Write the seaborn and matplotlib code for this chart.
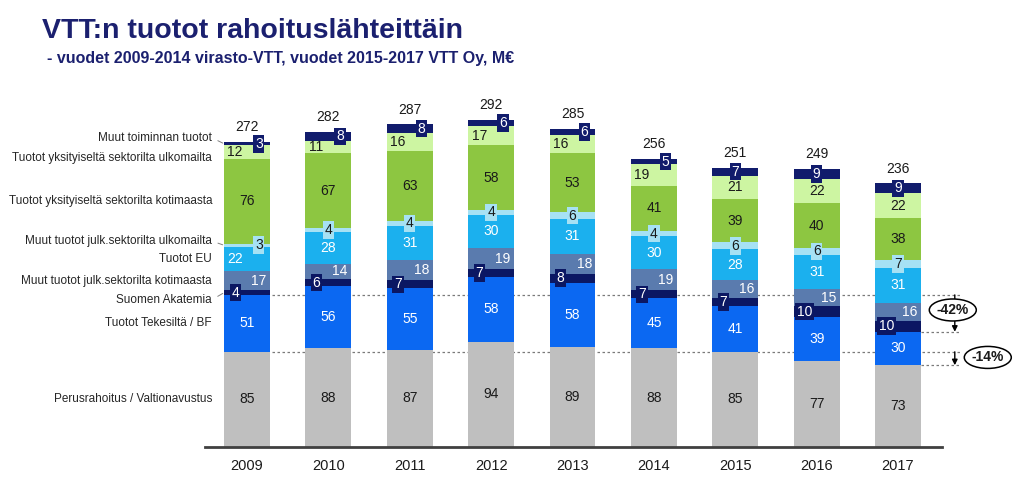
import numpy as np
import pandas as pd
import matplotlib
matplotlib.use("Agg")
import matplotlib.pyplot as plt
import seaborn as sns
from matplotlib import font_manager
from matplotlib.patches import Ellipse

# ---------------- data ----------------
years = ["2009", "2010", "2011", "2012", "2013", "2014", "2015", "2016", "2017"]
series_names = [
    "Perusrahoitus / Valtionavustus",
    "Tuotot Tekesiltä / BF",
    "Suomen Akatemia",
    "Muut tuotot julk.sektorilta kotimaasta",
    "Tuotot EU",
    "Muut tuotot julk.sektorilta ulkomailta",
    "Tuotot yksityiseltä sektorilta kotimaasta",
    "Tuotot yksityiseltä sektorilta ulkomailta",
    "Muut toiminnan tuotot",
]
perus = [85, 88, 87, 94, 89, 88, 85, 77, 73]
tekes = [51, 56, 55, 58, 58, 45, 41, 39, 30]
akatemia = [4, 6, 7, 7, 8, 7, 7, 10, 10]
julk_koti = [17, 14, 18, 19, 18, 19, 16, 15, 16]
eu = [22, 28, 31, 30, 31, 30, 28, 31, 31]
julk_ulko = [3, 4, 4, 4, 6, 4, 6, 6, 7]
yks_koti = [76, 67, 63, 58, 53, 41, 39, 40, 38]
yks_ulko = [12, 11, 16, 17, 16, 19, 21, 22, 22]
muut = [3, 8, 8, 6, 6, 5, 7, 9, 9]
totals = [272, 282, 287, 292, 285, 256, 251, 249, 236]
change_labels = ["-42%", "-14%"]
title = "VTT:n tuotot rahoituslähteittäin"
subtitle = "- vuodet 2009-2014 virasto-VTT, vuodet 2015-2017 VTT Oy, M€"

layers = [perus, tekes, akatemia, julk_koti, eu, julk_ulko, yks_koti, yks_ulko, muut]

# ---------------- style ----------------
colors = ["#BFBFBF", "#0B68F2", "#0B1763", "#5A7BAE", "#1BB0EE",
          "#A6E1F4", "#8DC641", "#CDF5A2", "#111C6C"]
dark = "#1a1a1a"
text_colors = [dark, "white", "white", "white", "white", dark, dark, dark, "white"]
boxed = [False, False, True, False, False, True, False, False, True]
placement = [
    ["C"] * 9,
    ["C"] * 9,
    ["L"] * 9,
    ["R"] * 9,
    ["L"] + ["C"] * 8,
    ["R"] + ["C"] * 8,
    ["C"] * 9,
    ["L"] * 6 + ["C"] * 3,
    ["R"] * 6 + ["C"] * 3,
]
dx_pt = {"L": -8.5, "C": 0, "R": 8.5}
# vertical offsets (points) of the left-hand series labels
label_dy = [0, 0, -5.0, 0, 0, 3.0, 0, -4.3, 4.2]
leader = [False, False, True, False, False, True, False, False, True]

sns.set_theme(style="white")
names = {f.name for f in font_manager.fontManager.ttflist}
base_font = "Liberation Sans" if "Liberation Sans" in names else "DejaVu Sans"
title_font = "Liberation Sans Narrow" if "Liberation Sans Narrow" in names else base_font
narrow = title_font != base_font
plt.rcParams["font.family"] = [base_font, "DejaVu Sans"]

W, H = 1024, 479
fig = plt.figure(figsize=(W / 100, H / 100), dpi=100)

# axes placement (pixels)
px_left, px_right, px_base, px_top = 205, 942, 446.7, 95
ax = fig.add_axes([px_left / W, (H - px_base) / H,
                   (px_right - px_left) / W, (px_base - px_top) / H])

bw = 0.565
vals = np.array(layers, dtype=float)
cum = np.cumsum(vals, axis=0)
bottoms = cum - vals

for i in reversed(range(len(layers))):
    sns.barplot(x=years, y=cum[i], color=colors[i], width=bw, saturation=1,
                errorbar=None, linewidth=0, ax=ax, zorder=2)

ppu = 1.116  # pixels per unit
ax.set_ylim(0, (px_base - px_top) / ppu)
step = 81.4
ax.set_xlim(-(247 - px_left) / step, 8 + (px_right - 898) / step)

# segment labels
for i in range(len(layers)):
    for j in range(len(years)):
        v = layers[i][j]
        yc = bottoms[i][j] + v / 2
        kw = {}
        if boxed[i]:
            kw["bbox"] = dict(boxstyle="square,pad=0.13", fc=colors[i], ec="none")
        ax.annotate(str(v), (j, yc), xytext=(dx_pt[placement[i][j]], 0),
                    textcoords="offset points", ha="center", va="center",
                    fontsize=10, color=text_colors[i], zorder=5, **kw)

# totals
for j in range(len(years)):
    ax.annotate(str(totals[j]), (j, cum[-1][j]), xytext=(0, 10.5),
                textcoords="offset points", ha="center", va="center",
                fontsize=10, color=dark, zorder=5)

# left-hand series labels
for i, name in enumerate(series_names):
    yc = bottoms[i][0] + vals[i][0] / 2
    kw = {}
    if leader[i]:
        kw["arrowprops"] = dict(arrowstyle="-", color="#808080", lw=0.7,
                                relpos=(1, 0.5), shrinkA=2, shrinkB=1)
    ax.annotate(name, (-bw / 2, yc), xytext=(-8.6, label_dy[i]),
                textcoords="offset points", ha="right", va="center",
                fontsize=8.5, color="#262626", annotation_clip=False, **kw)

# dashed reference lines
x_end = (960 - 247) / step
dash = dict(color="#7a7a7a", lw=0.9, linestyle=(0, (2, 2)), clip_on=False, zorder=1)
y_t0, y_p0 = cum[1][0], cum[0][0]
y_t8, y_p8 = cum[1][-1], cum[0][-1]
ax.plot([0, x_end], [y_t0, y_t0], **dash)
ax.plot([0, x_end], [y_p0, y_p0], **dash)
ax.plot([8 + bw / 2, x_end], [y_t8, y_t8], **dash)
ax.plot([8 + bw / 2, x_end], [y_p8, y_p8], **dash)

# arrows
xa = (955 - 247) / step
for y0, y1 in [(y_t0, y_t8), (y_p0, y_p8)]:
    ax.annotate("", xy=(xa, y1), xytext=(xa, y0),
                arrowprops=dict(arrowstyle="-|>", color="black", lw=1.0,
                                mutation_scale=8, shrinkA=0, shrinkB=0),
                annotation_clip=False, zorder=6)

# ellipses with change labels
ell_pos = [((953 - 247) / step, (y_t0 + y_t8) / 2 + 3), ((988 - 247) / step, (y_p0 + y_p8) / 2 + 1)]
for (ex, ey), lab in zip(ell_pos, change_labels):
    e = Ellipse((ex, ey), width=47 / step, height=22 / ppu, fc="white", ec="black",
                lw=1.1, clip_on=False, zorder=7)
    ax.add_patch(e)
    ax.text(ex, ey, lab, ha="center", va="center", fontsize=10, fontweight="bold",
            color=dark, zorder=8, clip_on=False)

# axes cosmetics
sns.despine(ax=ax, left=True, top=True, right=True)
ax.spines["bottom"].set_color("#404040")
ax.spines["bottom"].set_linewidth(2)
ax.set_yticks([])
ax.set_xlabel("")
ax.set_ylabel("")
ax.tick_params(axis="x", length=0, pad=9, labelsize=10.5, labelcolor=dark)
ax.grid(False)
ax.set_facecolor("white")

# titles
navy = "#1B206F"
fig.text(42 / W, 1 - 38 / H, title, fontsize=23 if narrow else 20.5,
         fontweight="bold", color=navy,
         va="baseline", ha="left", family=[title_font, "DejaVu Sans"])
fig.text(47 / W, 1 - 63 / H, subtitle, fontsize=12.5 if narrow else 11.5,
         fontweight="bold", color=navy,
         va="baseline", ha="left", family=[title_font, "DejaVu Sans"])

fig.savefig("out.png", dpi=100, facecolor="white")
